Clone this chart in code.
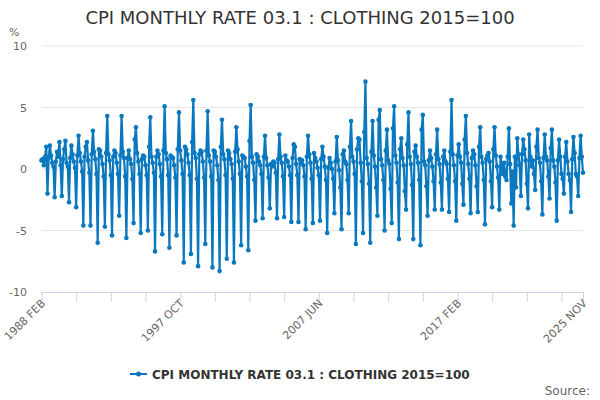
<!DOCTYPE html>
<html>
<head>
<meta charset="utf-8">
<script src="https://cdn.jsdelivr.net/npm/d3@7"></script>
<style>
  body { margin: 0; background: #fff; }
  #chart { width: 600px; height: 400px; }
  text { font-family: "DejaVu Sans", Verdana, sans-serif; }
</style>
</head>
<body>
<div id="chart"></div>
<script>
// Monthly rate (%), one array per year
const y1988 = [0.7, 0.8, 0.3, 1.0, 1.8, -2.0, 0.9, 1.9, 1.1, 0.5, 0.2]; // Feb-Dec
const y1989 = [-2.3, 0.6, 1.4, 1.0, 2.2, 0.3, -2.2, 0.8, 1.6, 2.3, 0.5, 0.2];
const y1990 = [-2.7, 0.9, 1.9, 1.2, 0.6, 0.1, -3.1, 1.1, 2.7, 1.3, 0.6, -0.2];
const y1991 = [-4.6, 1.0, 1.8, 2.2, 0.7, -0.3, -4.6, 1.2, 3.1, 1.4, 0.8, -0.4];
const y1992 = [-6.0, 1.6, 1.5, 1.0, 0.4, -0.6, -4.7, 1.3, 4.3, 1.2, 0.7, -0.5];
const y1993 = [-5.4, 1.0, 1.5, 1.3, 0.5, -0.4, -3.8, 1.1, 4.3, 1.4, 0.9, -0.6];
const y1994 = [-5.6, 0.9, 1.5, 0.8, 0.4, -0.8, -4.4, 2.4, 3.4, 1.3, 0.6, -0.4];
const y1995 = [-5.2, 0.8, 1.1, 1.0, 0.3, -0.5, -5.0, 1.8, 4.2, 1.0, 0.5, -0.3];
const y1996 = [-6.7, 1.0, 1.5, 1.2, 0.4, -0.6, -5.3, 1.5, 5.1, 1.3, 0.8, -0.5];
const y1997 = [-6.4, 1.1, 1.0, 0.9, 0.3, -0.7, -5.4, 1.6, 4.6, 1.5, 0.7, -0.4];
const y1998 = [-7.6, 1.8, 1.6, 1.2, 0.5, -0.5, -6.9, 2.2, 5.6, 1.3, 0.9, -0.8];
const y1999 = [-7.9, 1.2, 1.5, 1.4, 0.6, -0.7, -6.1, 1.5, 4.7, 1.1, 0.6, -0.6];
const y2000 = [-8.0, 1.5, 1.4, 1.0, 0.3, -0.9, -8.3, 1.8, 4.0, 1.2, 0.8, -0.5];
const y2001 = [-7.3, 1.5, 1.3, 0.8, 0.4, -0.8, -7.6, 1.4, 3.4, 1.6, 0.6, -0.4];
const y2002 = [-6.2, 1.1, 1.0, 0.9, 0.2, -0.6, -6.6, 2.3, 5.2, 1.0, 0.5, -0.9];
const y2003 = [-4.2, 1.2, 1.0, 0.6, 0.3, -0.4, -4.0, 1.0, 2.7, 0.9, 0.3, -0.7];
const y2004 = [-3.2, 0.4, 0.2, 0.6, 0.5, -0.3, -4.0, 0.8, 2.8, 1.0, 0.5, -0.6];
const y2005 = [-3.9, 1.1, 0.7, 0.6, 0.2, -0.5, -4.3, 0.9, 2.0, 1.8, 0.4, -0.5];
const y2006 = [-4.3, 0.8, 0.5, 0.7, 0.3, -0.6, -4.9, 1.0, 2.7, 1.2, 0.5, -0.8];
const y2007 = [-4.4, 1.3, 0.9, 0.6, 0.1, -0.5, -4.2, 0.8, 1.8, 1.0, 0.2, -0.9];
const y2008 = [-5.2, 0.1, 0.9, 0.5, 0.0, -0.8, -3.6, 0.6, 2.6, 0.7, -0.1, -1.5];
const y2009 = [-4.9, 1.2, 1.5, 0.6, 0.4, -0.9, -3.6, 1.8, 3.9, 1.0, 0.6, -0.4];
const y2010 = [-6.1, 1.6, 2.5, 2.4, 0.5, -1.0, -5.2, 3.0, 7.1, 0.9, 0.4, -1.2];
const y2011 = [-6.0, 1.4, 3.9, 1.1, 0.2, -1.5, -3.8, 4.0, 4.8, 0.8, 0.3, -0.9];
const y2012 = [-5.0, 1.5, 3.2, 0.7, 0.4, -1.6, -4.4, 3.3, 5.1, 1.1, 0.5, -1.1];
const y2013 = [-5.7, 1.6, 2.5, 0.9, 0.3, -1.8, -3.3, 2.0, 4.6, 1.0, 0.4, -1.3];
const y2014 = [-5.7, 1.4, 1.9, 1.0, 0.5, -0.9, -6.2, 3.2, 4.4, 0.6, 0.3, -1.4];
const y2015 = [-3.8, 0.7, 1.5, 0.9, 0.2, -1.0, -3.3, 1.2, 3.2, 0.8, 0.4, -1.1];
const y2016 = [-3.3, 1.0, 1.5, 0.6, 0.4, -0.8, -3.5, 1.4, 5.6, 1.2, 0.3, -1.0];
const y2017 = [-4.2, 1.1, 2.0, 1.0, 0.5, -1.2, -2.9, 2.4, 4.3, 1.3, 0.4, -0.8];
const y2018 = [-3.6, 0.9, 1.5, 1.2, 0.3, -1.4, -3.5, 1.8, 3.4, 1.0, 0.5, -0.9];
const y2019 = [-4.5, 0.8, 1.1, 1.3, 0.6, -1.0, -3.1, 1.6, 3.4, 1.1, 0.2, -0.7];
const y2020 = [-3.3, 1.0, 0.2, -0.4, 0.5, -0.6, -0.9, 1.0, 3.3, 0.4, -2.8, -0.2];
const y2021 = [-4.6, 1.0, -1.5, 2.5, 1.2, 0.3, -2.2, 1.2, 2.4, 1.6, 0.7, -1.2];
const y2022 = [-3.2, 2.8, 1.0, 0.2, 0.7, -0.4, -1.7, 1.8, 3.2, 0.9, 0.5, -1.0];
const y2023 = [-3.7, 0.9, 2.8, 1.0, 0.7, -0.6, -2.4, 1.7, 3.2, 0.7, 0.2, -1.1];
const y2024 = [-4.2, 0.7, 2.4, 1.0, -0.4, -0.8, -2.0, 1.0, 2.2, 0.6, -0.4, -0.9];
const y2025 = [-3.5, 0.8, 2.6, 1.3, -0.4, -0.6, -2.2, 0.9, 2.7, 1.0, -0.3]; // Jan-Nov

const yearRows = [y1988, y1989, y1990, y1991, y1992, y1993, y1994, y1995, y1996,
  y1997, y1998, y1999, y2000, y2001, y2002, y2003, y2004, y2005, y2006, y2007,
  y2008, y2009, y2010, y2011, y2012, y2013, y2014, y2015, y2016, y2017, y2018,
  y2019, y2020, y2021, y2022, y2023, y2024, y2025];

const monthNames = ["JAN", "FEB", "MAR", "APR", "MAY", "JUN", "JUL", "AUG", "SEP", "OCT", "NOV", "DEC"];
const yTicks = [10, 5, 0, -5, -10];
const tickLabels = ["1988 FEB", "1997 OCT", "2007 JUN", "2017 FEB", "2025 NOV"];
const seriesName = "CPI MONTHLY RATE 03.1 : CLOTHING 2015=100";

// build categories (YYYY MON) alongside the values
const values = yearRows.flat();
const categories = values.map((d, i) => {
  const m = i + 1; // first point is Feb 1988
  return `${1988 + Math.floor(m / 12)} ${monthNames[m % 12]}`;
});
const data = values.map((v, i) => ({ cat: categories[i], value: v }));

const width = 600;
const height = 400;
const margin = { top: 46, right: 17, bottom: 108, left: 41.5 };
const color = "#0a78be";

const x = d3
  .scalePoint()
  .domain(categories)
  .range([margin.left, width - margin.right]);

const y = d3
  .scaleLinear()
  .domain([-10, 10])
  .range([height - margin.bottom, margin.top]);

const svg = d3
  .create("svg")
  .attr("width", width)
  .attr("height", height)
  .attr("viewBox", [0, 0, width, height]);

// Title
svg
  .append("text")
  .attr("x", 300)
  .attr("y", 24)
  .attr("text-anchor", "middle")
  .attr("fill", "#333")
  .attr("font-size", 18)
  .text(seriesName);

// Gridlines + y labels
const x0 = x(categories[0]);
const x1 = x(categories[categories.length - 1]);
svg
  .append("g")
  .selectAll("line")
  .data(yTicks.filter((t) => t !== -10))
  .join("line")
  .attr("x1", x0)
  .attr("x2", x1)
  .attr("y1", (d) => y(d))
  .attr("y2", (d) => y(d))
  .attr("stroke", "#e6e6e6");

svg
  .append("g")
  .selectAll("text")
  .data(yTicks)
  .join("text")
  .attr("x", 27)
  .attr("y", (d) => y(d) + 4)
  .attr("text-anchor", "end")
  .attr("fill", "#666")
  .attr("font-size", 11)
  .text((d) => d);

svg
  .append("text")
  .attr("x", 9)
  .attr("y", 36)
  .attr("fill", "#666")
  .attr("font-size", 11)
  .text("%");

// X axis: a tick every 29 months plus the last one
const tickCats = categories.filter((d, i) => i % 29 === 0 || i === categories.length - 1);
const xAxis = svg
  .append("g")
  .attr("transform", `translate(0,${y(-10)})`)
  .call(
    d3
      .axisBottom(x)
      .tickValues(tickCats)
      .tickSize(10)
      .tickSizeOuter(0)
      .tickFormat((d) => (tickLabels.includes(d) ? d : ""))
  );
xAxis.select(".domain").attr("stroke", "#ccd6eb").attr("d", `M${x0},0.5H${x1}`);
xAxis.selectAll(".tick line").attr("stroke", "#ccd6eb");
xAxis
  .selectAll(".tick text")
  .attr("fill", "#666")
  .attr("font-size", 11)
  .attr("font-family", "DejaVu Sans, sans-serif")
  .attr("text-anchor", "end")
  .attr("dy", null)
  .attr("y", 0)
  .attr("transform", "translate(4,12) rotate(-45)");

// Line + markers
const line = d3
  .line()
  .x((d) => x(d.cat))
  .y((d) => y(d.value));

svg
  .append("path")
  .datum(data)
  .attr("fill", "none")
  .attr("stroke", color)
  .attr("stroke-width", 2.2)
  .attr("stroke-linejoin", "round")
  .attr("d", line);

svg
  .append("g")
  .selectAll("circle")
  .data(data)
  .join("circle")
  .attr("cx", (d) => x(d.cat))
  .attr("cy", (d) => y(d.value))
  .attr("r", 2.3)
  .attr("fill", color);

// Legend
const legend = svg.append("g").attr("transform", "translate(130,374)");
legend
  .append("line")
  .attr("x1", 0)
  .attr("x2", 17)
  .attr("stroke", color)
  .attr("stroke-width", 2);
legend.append("circle").attr("cx", 8.5).attr("r", 2.5).attr("fill", color);
legend
  .append("text")
  .attr("x", 22)
  .attr("y", 4.5)
  .attr("fill", "#333")
  .attr("font-size", 12)
  .attr("font-weight", "bold")
  .text(seriesName);

// Credits
svg
  .append("text")
  .attr("x", 590)
  .attr("y", 395)
  .attr("text-anchor", "end")
  .attr("fill", "#666")
  .attr("font-size", 12)
  .text("Source:");

document.getElementById("chart").appendChild(svg.node());
</script>
</body>
</html>
